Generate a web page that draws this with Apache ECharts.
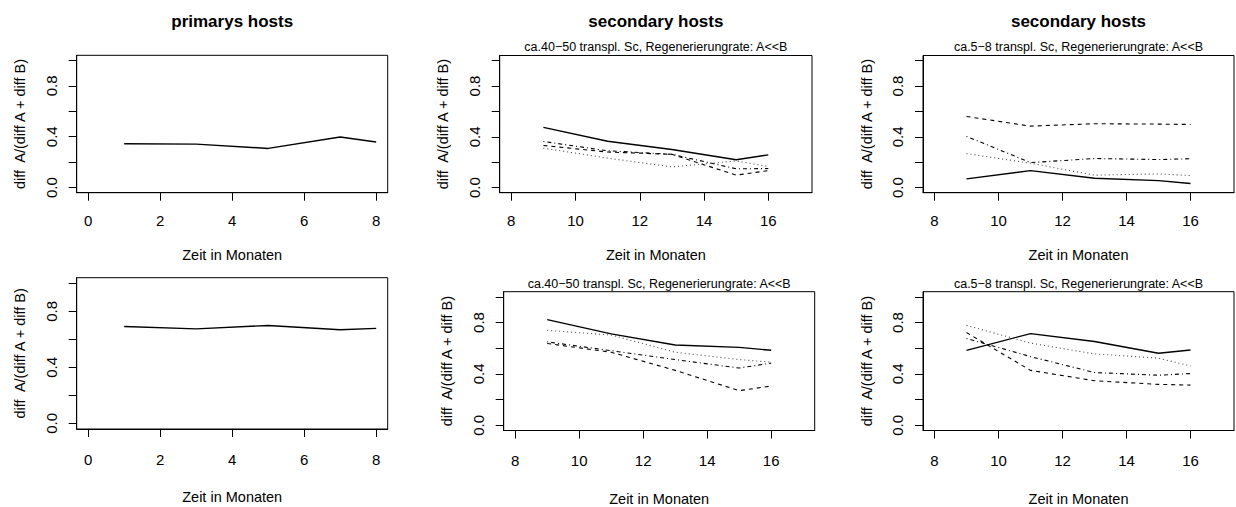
<!DOCTYPE html>
<html><head><meta charset="utf-8">
<script src="https://cdn.jsdelivr.net/npm/echarts@6/dist/echarts.min.js"></script>
<style>html,body{margin:0;padding:0;background:#fff}#c{width:1236px;height:507px}</style>
</head><body><div id="c"></div>
<script>
// ---- data ----
const monthsPrimary = [1, 3, 5, 7, 8];
const monthsSecondary = [9, 11, 13, 15, 16];
const primaryTicks = [0, 2, 4, 6, 8];
const secondaryTicks = [8, 10, 12, 14, 16];
const yTicks = [0, 0.2, 0.4, 0.6, 0.8, 1.0];
const yTickLabels = [0, 0.4, 0.8];

const titleTopLeft = 'primarys hosts';
const titleSecondary = 'secondary hosts';
const subtitle40 = 'ca.40\u221250 transpl. Sc, Regenerierungrate: A<<B';
const subtitle5 = 'ca.5\u22128 transpl. Sc, Regenerierungrate: A<<B';
const xLabel = 'Zeit in Monaten';
const yLabel = 'diff  A/(diff A + diff B)';

// panel 1 (top left)
const primTop = [0.345, 0.342, 0.308, 0.398, 0.358];
// panel 4 (bottom left)
const primBottom = [0.692, 0.675, 0.699, 0.668, 0.678];
// panel 2 (top middle, ca.40-50)
const top40Solid = [0.474, 0.365, 0.300, 0.219, 0.258];
const top40Dashed = [0.332, 0.280, 0.262, 0.098, 0.134];
const top40Dotted = [0.311, 0.232, 0.163, 0.210, 0.166];
const top40DotDash = [0.363, 0.290, 0.262, 0.148, 0.150];
// panel 3 (top right, ca.5-8)
const top5Solid = [0.069, 0.134, 0.074, 0.055, 0.032];
const top5Dashed = [0.560, 0.484, 0.503, 0.500, 0.497];
const top5Dotted = [0.268, 0.192, 0.098, 0.108, 0.095];
const top5DotDash = [0.403, 0.197, 0.229, 0.221, 0.227];
// panel 5 (bottom middle, ca.40-50)
const bot40Solid = [0.823, 0.712, 0.625, 0.607, 0.584];
const bot40Dashed = [0.637, 0.569, 0.428, 0.270, 0.306];
const bot40Dotted = [0.739, 0.703, 0.569, 0.512, 0.492];
const bot40DotDash = [0.650, 0.581, 0.512, 0.446, 0.484];
// panel 6 (bottom right, ca.5-8)
const bot5Solid = [0.584, 0.714, 0.653, 0.561, 0.586];
const bot5Dashed = [0.722, 0.428, 0.347, 0.319, 0.313];
const bot5Dotted = [0.778, 0.640, 0.556, 0.523, 0.462];
const bot5DotDash = [0.676, 0.535, 0.411, 0.390, 0.403];

// ---- layout ----
const FONT = '"Liberation Sans", Arial, Helvetica, sans-serif';
const grids = [
  {left: 76.7, top: 55.3, width: 311, height: 137.4},
  {left: 499.7, top: 55.5, width: 312.3, height: 137.2},
  {left: 923, top: 55.5, width: 311, height: 137.2},
  {left: 76.7, top: 277.7, width: 311, height: 151.3},
  {left: 503.7, top: 291.7, width: 311, height: 141},
  {left: 923, top: 291.7, width: 311, height: 141}
];
const panelKind = ['p', 's', 's', 'p', 's', 's'];
const rowOf = [0, 0, 0, 1, 1, 1];

const styles = {
  solid: {type: 'solid', width: 1.4, color: '#000'},
  dashed: {type: [4, 4], width: 1.1, color: '#000'},
  dotted: {type: [1, 3], width: 1.1, color: '#444'},
  dotdash: {type: [1, 3, 4, 3], width: 1.1, color: '#000'}
};

const xAxes = grids.map((g, i) => {
  const prim = panelKind[i] === 'p';
  const ticks = prim ? primaryTicks : secondaryTicks;
  const lo = prim ? 0 : 8, hi = prim ? 8 : 17;
  const pad = (hi - lo) * 0.04;
  return {
    type: 'value', gridIndex: i, min: lo - pad, max: hi + pad,
    splitLine: {show: false},
    axisLine: {show: true, onZero: false, lineStyle: {color: '#000', width: 1}},
    axisTick: {show: true, inside: false, length: 8, customValues: ticks, lineStyle: {color: '#000', width: 1}},
    axisLabel: {show: true, customValues: ticks, margin: rowOf[i] === 0 ? 20 : 22.5,
      fontSize: 15, fontFamily: FONT, color: '#000', formatter: v => String(Math.round(v))},
    name: xLabel, nameLocation: 'middle', nameGap: rowOf[i] === 0 ? 55 : 60.5,
    nameTextStyle: {fontSize: 14.5, fontFamily: FONT, color: '#000'}
  };
});
const yAxes = grids.map((g, i) => ({
  type: 'value', gridIndex: i, min: -0.04, max: 1.04,
  splitLine: {show: false},
  axisLine: {show: true, onZero: false, lineStyle: {color: '#000', width: 1}},
  axisTick: {show: true, inside: false, length: 8, customValues: yTicks, lineStyle: {color: '#000', width: 1}},
  axisLabel: {show: true, customValues: yTickLabels, rotate: 90, margin: 18,
    fontSize: 15, fontFamily: FONT, color: '#000', formatter: v => v.toFixed(1)},
  name: yLabel, nameLocation: 'middle', nameGap: 49,
  nameTextStyle: {fontSize: 14.5, fontFamily: FONT, color: '#000'}
}));

function mk(idx, xs, ys, st) {
  return {
    type: 'line', xAxisIndex: idx, yAxisIndex: idx, showSymbol: false, symbol: 'none',
    silent: true, animation: false,
    data: xs.map((x, k) => [x, ys[k]]),
    lineStyle: Object.assign({}, styles[st])
  };
}
const series = [
  mk(0, monthsPrimary, primTop, 'solid'),
  mk(1, monthsSecondary, top40Solid, 'solid'),
  mk(1, monthsSecondary, top40Dashed, 'dashed'),
  mk(1, monthsSecondary, top40Dotted, 'dotted'),
  mk(1, monthsSecondary, top40DotDash, 'dotdash'),
  mk(2, monthsSecondary, top5Solid, 'solid'),
  mk(2, monthsSecondary, top5Dashed, 'dashed'),
  mk(2, monthsSecondary, top5Dotted, 'dotted'),
  mk(2, monthsSecondary, top5DotDash, 'dotdash'),
  mk(3, monthsPrimary, primBottom, 'solid'),
  mk(4, monthsSecondary, bot40Solid, 'solid'),
  mk(4, monthsSecondary, bot40Dashed, 'dashed'),
  mk(4, monthsSecondary, bot40Dotted, 'dotted'),
  mk(4, monthsSecondary, bot40DotDash, 'dotdash'),
  mk(5, monthsSecondary, bot5Solid, 'solid'),
  mk(5, monthsSecondary, bot5Dashed, 'dashed'),
  mk(5, monthsSecondary, bot5Dotted, 'dotted'),
  mk(5, monthsSecondary, bot5DotDash, 'dotdash')
];

function txt(s, cx, cy, size, bold) {
  return {type: 'text', x: cx, y: cy, silent: true,
    style: {text: s, textAlign: 'center', textVerticalAlign: 'middle',
      font: (bold ? 'bold ' : '') + size + 'px ' + FONT, fill: '#000'}};
}
const cxOf = g => g.left + g.width / 2;
const graphics = [
  txt(titleTopLeft, cxOf(grids[0]), 21, 17, true),
  txt(titleSecondary, cxOf(grids[1]), 21, 17, true),
  txt(titleSecondary, cxOf(grids[2]), 21, 17, true),
  txt(subtitle40, cxOf(grids[1]), 47, 12.5, false),
  txt(subtitle5, cxOf(grids[2]), 47, 12.5, false),
  txt(subtitle40, cxOf(grids[4]), 284, 12.5, false),
  txt(subtitle5, cxOf(grids[5]), 284, 12.5, false)
];

const chart = echarts.init(document.getElementById('c'), null, {renderer: 'svg'});
chart.setOption({
  animation: false,
  backgroundColor: '#fff',
  grid: grids.map(g => Object.assign({show: true, borderColor: '#000', borderWidth: 1, backgroundColor: 'transparent', containLabel: false}, g)),
  xAxis: xAxes,
  yAxis: yAxes,
  series: series,
  graphic: graphics
});
</script>
</body></html>
